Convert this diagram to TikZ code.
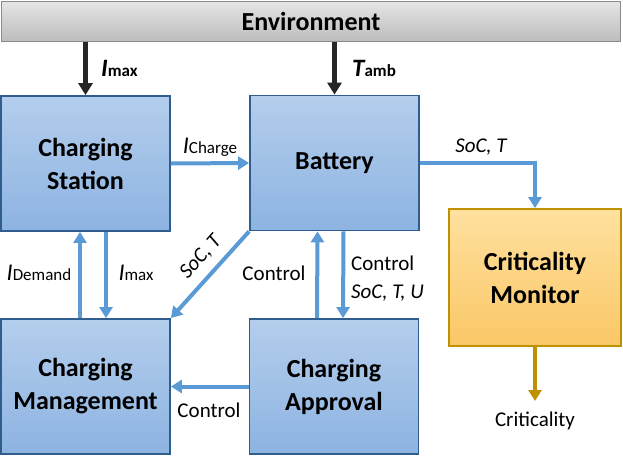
\documentclass[tikz,border=0pt]{standalone}
\usepackage{fontspec}
\setmainfont{Carlito}
\usetikzlibrary{arrows.meta,calc}
\definecolor{boxtop}{HTML}{B4CEEC}
\definecolor{boxbot}{HTML}{8DB3E2}
\definecolor{boxline}{HTML}{2F5E8E}
\definecolor{arrblue}{HTML}{5B9BD5}
\definecolor{goldline}{HTML}{BF9000}
\definecolor{ortop}{HTML}{FFE19F}
\definecolor{orbot}{HTML}{FAC766}
\definecolor{envtop}{HTML}{E4E4E4}
\definecolor{envbot}{HTML}{BDBDBD}
\definecolor{envline}{HTML}{8A8A8A}
\definecolor{darkarr}{HTML}{262626}
\begin{document}
\begin{tikzpicture}[x=1pt,y=-1pt,
  block/.style={draw=boxline, line width=1.8pt, top color=boxtop, bottom color=boxbot,
    minimum width=169pt, minimum height=135pt, align=center, inner sep=0pt,
    font=\fontsize{26}{33}\selectfont\bfseries},
  monitor/.style={block, draw=goldline, top color=ortop, bottom color=orbot,
    minimum width=172pt, minimum height=137pt},
  envbox/.style={draw=envline, line width=1.8pt, top color=envtop, bottom color=envbot,
    minimum width=619pt, minimum height=40pt, inner sep=0pt,
    font=\fontsize{26}{30}\selectfont\bfseries},
  barr/.style={draw=arrblue, line width=4pt, -{Triangle[width=13pt,length=11pt]}},
  karr/.style={draw=darkarr, line width=4.5pt, -{Triangle[width=14pt,length=12pt]}},
  garr/.style={draw=goldline, line width=4pt, -{Triangle[width=13pt,length=11pt]}},
  lbl/.style={inner sep=0pt, font=\fontsize{21}{25}\selectfont},
]
\useasboundingbox (0,0) rectangle (623,460);
\fill[white] (0,0) rectangle (623,460);

\node[envbox] (env) at (311,21.5) {Environment};
\node[block] (cs) at (85.5,163.5) {Charging\\Station};
\node[block] (bat) at (334.5,163) {Battery};
\node[block] (cm) at (85.5,386.5) {Charging\\Management};
\node[block] (ca) at (334,386.5) {Charging\\Approval};
\node[monitor] (crm) at (535,277.5) {Criticality\\Monitor};

% black inputs
\draw[karr] (env.south -| cs.north) -- (cs.north);
\draw[karr] (env.south -| bat.north) -- (bat.north);
\node[lbl, anchor=base west] (limaxt) at (101,76) {{\fontsize{25}{25}\selectfont\bfseries\itshape I}{\fontsize{17}{17}\selectfont\bfseries max}};
\node[lbl, anchor=base west] (ltamb) at (352,76) {{\fontsize{25}{25}\selectfont\bfseries\itshape T}{\fontsize{17}{17}\selectfont\bfseries amb}};

% station -> battery
\draw[barr] (cs.east) -- (bat.west);
\node[lbl, anchor=base] (lich) at (210,153) {{\fontsize{24}{24}\selectfont\itshape I}{\fontsize{17}{17}\selectfont Charge}};

% station <-> management
\draw[barr] ([xshift=-5.5pt]cm.north) -- ([xshift=-5.5pt]cs.south);
\draw[barr] ([xshift=20.5pt]cs.south) -- ([xshift=20.5pt]cm.north);
\node[lbl, anchor=base] (lidem) at (39,280) {{\fontsize{24}{24}\selectfont\itshape I}{\fontsize{17}{17}\selectfont Demand}};
\node[lbl, anchor=base] (limax) at (136,280) {{\fontsize{24}{24}\selectfont\itshape I}{\fontsize{17}{17}\selectfont max}};

% battery <-> approval
\draw[barr] ([xshift=-17pt]ca.north) -- ([xshift=-17pt]bat.south);
\draw[barr] ([xshift=9pt]bat.south) -- ([xshift=9pt]ca.north);
\node[lbl, anchor=base] (lctl1) at (274,280) {Control};
\node[lbl, anchor=base west] (lctl2) at (351,270) {Control};
\node[lbl, anchor=base west, font=\fontsize{21}{25}\selectfont\itshape] (lsocu) at (351,298) {SoC, T, U};

% diagonal
\draw[barr] (bat.south west) -- (cm.north east);
\node[lbl, rotate=48, font=\fontsize{21}{25}\selectfont\itshape] (ldiag) at (201,257) {SoC, T};

% approval -> management
\draw[barr] (ca.west) -- (cm.east);
\node[lbl, anchor=base] (lctl3) at (209,417) {Control};

% battery -> monitor
\draw[barr] (bat.east) -- (bat.east -| crm.north) -- (crm.north);
\node[lbl, anchor=base, font=\fontsize{21}{25}\selectfont\itshape] (lsoc) at (481,152) {SoC, T};

% monitor output
\coordinate (critend) at (535,401);
\draw[garr] (crm.south) -- (critend);
\node[lbl, anchor=base] (lcrit) at (535,426) {Criticality};
\end{tikzpicture}
\end{document}
